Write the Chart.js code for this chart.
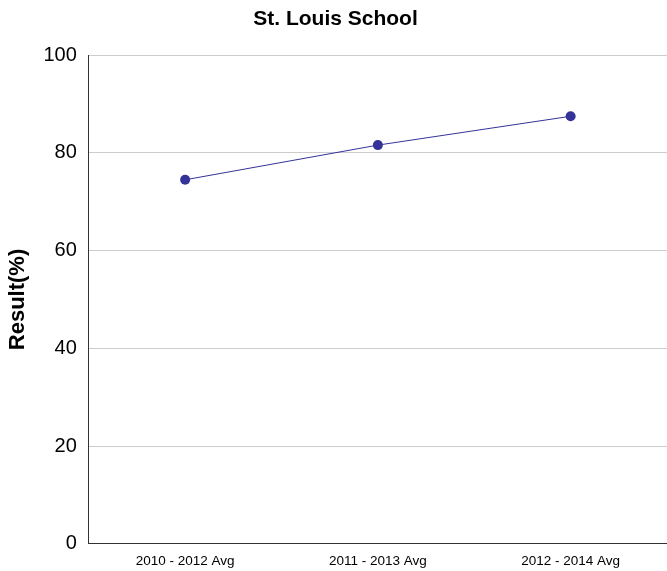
<!DOCTYPE html>
<html>
<head>
<meta charset="utf-8">
<script src="https://cdn.jsdelivr.net/npm/chart.js@4/dist/chart.umd.min.js"></script>
<style>
  body { margin: 0; background: #fff; }
</style>
</head>
<body>
<canvas id="resultChart" width="667" height="571"></canvas>
<script>
const periods = ['2010 - 2012 Avg', '2011 - 2013 Avg', '2012 - 2014 Avg'];
const results = [74.5, 81.6, 87.5];
const yTicks = [0, 20, 40, 60, 80, 100];

const ctx = document.getElementById('resultChart');

const data = {
    labels: periods,
    datasets: [{
        label: 'Result',
        data: results,
        borderColor: '#333399',
        backgroundColor: '#333399',
        borderWidth: 1,
        pointRadius: 5,
        pointHoverRadius: 5,
        pointBorderWidth: 0,
        tension: 0
    }]
};

const config = {
    type: 'line',
    data: data,
    options: {
        responsive: false,
        animation: false,
        layout: {
            autoPadding: false,
            padding: { left: 4, right: 0, top: 0, bottom: -7 }
        },
        plugins: {
            legend: { display: false },
            tooltip: { enabled: false },
            title: {
                display: true,
                text: 'St. Louis School',
                color: '#000',
                font: { family: 'Liberation Sans, Arial', size: 21, weight: 'bold' },
                padding: { top: 7, bottom: 23 }
            }
        },
        scales: {
            x: {
                offset: true,
                grid: { display: false, drawTicks: false },
                border: { display: true, color: '#333', width: 1 },
                ticks: {
                    color: '#000',
                    padding: 9,
                    maxRotation: 0,
                    font: { family: 'Liberation Sans, Arial', size: 13.5 }
                }
            },
            y: {
                min: 0,
                max: 100,
                afterBuildTicks: (axis) => { axis.ticks = yTicks.map(v => ({ value: v })); },
                grid: { color: '#cccccc', drawTicks: false },
                border: { display: true, color: '#333', width: 1 },
                ticks: {
                    color: '#000',
                    padding: 12,
                    font: { family: 'Liberation Sans, Arial', size: 20 }
                },
                title: {
                    display: true,
                    text: 'Result(%)',
                    color: '#000',
                    font: { family: 'Liberation Sans, Arial', size: 22, weight: 'bold' },
                    padding: { top: 1, bottom: 0 }
                }
            }
        }
    }
};

const chart = new Chart(ctx, config);
</script>
</body>
</html>
